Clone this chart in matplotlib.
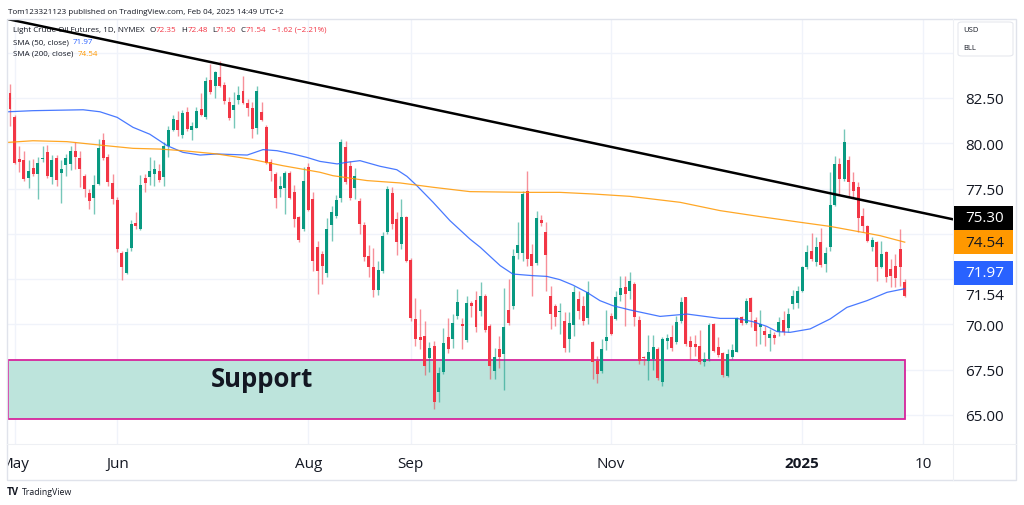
import matplotlib
matplotlib.use("Agg")
import matplotlib.pyplot as plt
from matplotlib.patches import Rectangle, FancyBboxPatch

plt.rcParams['font.family'] = ['Open Sans', 'DejaVu Sans']

# ---------------- data ----------------
# daily bars 2024-04-30 ... 2025-02-04, index = bar number
opens = [82.76, 81.47, 79.15, 79.05, 78.10, 78.65, 78.28, 79.15, 79.53, 78.14,
         79.18, 78.36, 78.78, 78.88, 79.55, 79.20, 78.17, 77.25, 77.00, 77.73,
         80.20, 79.24, 77.80, 76.89, 73.94, 72.83, 74.21, 75.62, 75.25, 78.08,
         78.14, 78.28, 78.49, 78.12, 79.87, 80.75, 81.30, 80.46, 81.75, 80.75,
         80.84, 81.89, 81.43, 83.49, 83.18, 83.64, 83.22, 82.30, 81.84, 82.39,
         82.91, 82.22, 81.95, 80.84, 81.71, 80.92, 78.99, 78.30, 77.48, 77.51,
         78.36, 77.33, 75.95, 75.27, 78.67, 76.92, 74.25, 73.89, 72.84, 75.49,
         76.00, 76.96, 79.78, 78.76, 77.51, 76.83, 75.49, 73.79, 73.15, 71.92,
         72.97, 75.08, 77.25, 75.82, 74.44, 75.91, 73.57, 70.30, 69.28, 69.34,
         68.12, 68.79, 66.25, 67.39, 69.28, 69.19, 70.48, 70.02, 69.16, 71.18,
         71.37, 70.76, 71.59, 69.93, 67.44, 68.64, 68.36, 70.81, 70.99, 73.94,
         73.94, 77.35, 73.89, 73.39, 75.78, 75.08, 71.55, 71.03, 70.70, 70.17,
         69.19, 69.97, 71.40, 71.03, 70.33, 69.01, 68.00, 67.44, 69.10, 70.48,
         70.30, 71.62, 72.05, 71.86, 72.23, 70.24, 68.18, 67.99, 68.09, 68.64,
         66.80, 69.08, 69.29, 69.05, 70.20, 71.49, 69.10, 68.92, 68.79, 67.94,
         68.09, 70.02, 68.73, 68.42, 67.17, 68.18, 68.49, 70.39, 70.08, 71.44,
         70.24, 69.84, 69.65, 69.23, 69.41, 69.56, 70.24, 69.80, 71.10, 71.20,
         71.86, 73.15, 74.07, 73.46, 74.57, 73.33, 74.25, 76.59, 78.86, 78.03,
         79.09, 77.88, 77.57, 75.97, 75.41, 74.25, 74.57, 73.15, 73.98, 73.06,
         73.24, 74.16, 72.35]
highs = [83.27, 81.56, 79.85, 79.60, 79.10, 79.15, 79.25, 79.85, 79.88, 79.33,
         79.33, 79.05, 79.43, 79.83, 80.07, 79.60, 78.32, 77.49, 78.23, 80.25,
         80.56, 79.39, 78.32, 77.03, 74.05, 74.24, 75.74, 76.20, 78.23, 78.32,
         79.24, 79.06, 78.86, 80.05, 80.97, 81.56, 81.80, 81.84, 81.99, 81.16,
         81.99, 82.78, 83.64, 84.38, 84.01, 84.56, 83.37, 82.54, 82.81, 83.18,
         83.73, 82.45, 82.26, 83.15, 82.26, 81.01, 79.13, 78.40, 78.21, 78.49,
         78.49, 77.70, 76.00, 78.67, 78.91, 77.29, 74.62, 74.07, 75.86, 76.55,
         77.14, 80.24, 80.14, 79.04, 78.62, 76.96, 75.63, 74.38, 74.20, 73.52,
         75.08, 77.66, 77.57, 76.19, 76.92, 76.00, 73.65, 71.44, 70.85, 70.20,
         69.01, 69.10, 67.63, 69.78, 70.33, 70.57, 71.95, 70.33, 71.58, 71.31,
         71.86, 72.36, 71.68, 70.02, 68.68, 69.38, 71.99, 72.51, 74.16, 75.63,
         77.38, 78.49, 74.44, 76.28, 76.04, 75.63, 72.14, 71.12, 71.20, 70.67,
         70.67, 72.10, 71.86, 71.59, 72.41, 69.10, 68.27, 69.19, 70.81, 70.63,
         71.86, 72.65, 72.65, 72.91, 72.32, 70.48, 68.27, 69.41, 69.41, 68.73,
         69.29, 69.47, 69.97, 70.48, 71.49, 71.52, 69.34, 69.41, 69.71, 68.46,
         70.08, 70.08, 69.29, 68.46, 68.64, 68.92, 70.39, 70.48, 71.44, 71.49,
         70.39, 70.81, 69.89, 69.75, 69.56, 70.39, 70.76, 70.90, 71.90, 72.10,
         73.24, 74.38, 75.05, 74.81, 75.30, 74.25, 78.39, 79.32, 79.17, 80.79,
         79.28, 78.43, 77.84, 76.41, 75.49, 74.81, 74.62, 74.62, 74.07, 73.61,
         73.89, 75.27, 72.48]
lows = [80.95, 78.86, 78.40, 77.90, 77.55, 78.20, 76.90, 78.95, 78.10, 77.77,
        77.62, 76.70, 78.17, 78.50, 78.60, 77.58, 77.03, 76.39, 76.11, 77.68,
        79.06, 77.62, 76.66, 73.99, 72.47, 72.80, 74.05, 75.28, 75.19, 77.31,
        77.68, 77.62, 77.85, 77.62, 79.22, 80.70, 80.38, 80.27, 80.70, 80.20,
        80.83, 81.53, 81.34, 82.72, 82.48, 83.09, 82.17, 81.30, 80.83, 82.17,
        82.17, 81.53, 80.27, 80.51, 81.25, 78.86, 77.94, 76.41, 77.02, 76.10,
        76.92, 75.36, 74.57, 75.18, 76.28, 72.97, 71.68, 72.23, 72.60, 74.62,
        75.86, 76.78, 77.75, 76.89, 76.92, 74.99, 73.52, 72.60, 71.49, 71.62,
        72.84, 74.99, 75.27, 73.83, 74.16, 73.43, 70.20, 68.82, 68.64, 67.20,
        67.35, 65.33, 65.70, 67.26, 68.42, 68.68, 70.30, 68.64, 69.04, 70.39,
        69.56, 70.48, 69.56, 66.98, 66.98, 67.57, 66.40, 69.97, 70.85, 73.61,
        73.52, 73.24, 71.59, 73.28, 75.45, 71.86, 69.75, 69.93, 69.47, 68.46,
        68.46, 69.38, 70.30, 69.97, 70.02, 66.98, 66.76, 67.32, 68.60, 69.41,
        70.26, 71.31, 69.90, 71.40, 69.93, 67.81, 67.76, 66.95, 67.50, 66.95,
        66.58, 68.64, 68.55, 68.92, 70.08, 68.82, 68.09, 68.27, 67.81, 67.72,
        67.99, 68.46, 68.18, 67.08, 67.08, 68.09, 68.46, 69.97, 70.02, 69.84,
        68.82, 68.92, 68.82, 68.55, 68.92, 69.38, 69.41, 69.60, 70.85, 70.90,
        71.77, 73.06, 73.52, 73.24, 73.15, 72.87, 74.07, 76.52, 77.20, 77.94,
        77.07, 76.96, 75.08, 75.08, 74.53, 74.07, 72.41, 73.10, 72.36, 72.05,
        72.05, 72.14, 71.50]
closes = [81.88, 78.93, 78.97, 78.05, 78.45, 78.28, 78.92, 79.20, 78.17, 79.05,
          77.99, 78.58, 79.18, 79.58, 79.24, 78.60, 77.49, 76.81, 77.68, 79.76,
          79.20, 77.86, 76.94, 74.18, 73.16, 73.99, 75.52, 75.43, 77.68, 77.82,
          78.45, 78.60, 77.99, 79.87, 80.75, 81.34, 80.75, 81.67, 80.79, 80.94,
          81.80, 81.56, 83.42, 82.81, 83.92, 83.18, 82.35, 81.40, 82.13, 82.68,
          82.21, 81.93, 80.79, 82.91, 81.30, 78.89, 78.45, 76.96, 77.66, 78.34,
          76.96, 75.82, 74.68, 77.94, 76.33, 73.52, 72.97, 73.20, 75.27, 76.22,
          76.87, 80.09, 77.84, 76.96, 78.17, 75.54, 73.70, 73.15, 71.92, 73.02,
          74.86, 77.47, 75.54, 74.53, 75.91, 73.52, 70.33, 69.19, 69.15, 67.68,
          68.68, 65.73, 67.31, 68.97, 68.64, 70.08, 71.22, 69.93, 71.18, 71.03,
          69.84, 71.59, 69.71, 67.72, 68.18, 68.18, 69.84, 70.08, 73.76, 74.38,
          77.20, 73.61, 73.24, 75.86, 75.58, 73.83, 70.57, 70.39, 70.76, 68.68,
          70.08, 71.77, 70.76, 70.20, 71.81, 67.90, 67.26, 68.64, 69.28, 69.47,
          71.49, 71.99, 71.70, 72.38, 70.39, 67.99, 68.12, 68.46, 68.73, 67.02,
          69.19, 69.27, 68.71, 70.15, 71.25, 68.92, 68.73, 68.73, 67.90, 68.09,
          69.97, 68.55, 68.31, 67.20, 68.36, 68.60, 70.33, 70.08, 71.31, 70.70,
          69.65, 70.00, 69.41, 69.47, 69.23, 70.15, 69.56, 70.60, 71.58, 71.86,
          73.15, 73.98, 73.61, 74.25, 73.28, 73.94, 76.59, 78.86, 78.03, 80.09,
          77.88, 77.38, 75.86, 75.45, 74.62, 74.68, 73.15, 73.89, 72.60, 72.69,
          72.54, 73.15, 71.54]

# moving averages read at sample bars
sma50_idx = [-0.4, 4.9, 15.7, 19.3, 23.0, 26.4, 30.0, 33.7, 37.1, 40.8, 44.4, 50.9,
             54.3, 57.3, 60.7, 63.7, 66.5, 70.2, 72.3, 75.1, 79.4, 83.0, 85.2, 87.3,
             90.8, 94.4, 98.7, 100.9, 105.2, 107.9, 112.2, 115.2, 118.0, 120.8,
             123.8, 126.6, 129.4, 133.0, 139.5, 145.3, 152.4, 156.0, 159.4, 162.4,
             164.6, 167.4, 171.7, 176.0, 179.6, 183.9, 188.2, 192.0]
sma50_val = [81.74, 81.80, 81.85, 81.74, 81.43, 80.88, 80.50, 79.87, 79.50, 79.35,
             79.41, 79.35, 79.65, 79.59, 79.41, 79.22, 79.00, 78.86, 78.95, 79.04,
             78.73, 78.54, 78.17, 77.66, 76.74, 75.73, 74.71, 74.26, 73.24, 72.78,
             72.69, 72.65, 72.47, 72.17, 71.77, 71.31, 71.03, 70.80, 70.44, 70.57,
             70.33, 70.33, 70.15, 69.89, 69.60, 69.56, 69.75, 70.30, 70.94, 71.31,
             71.77, 71.97]
sma200_idx = [-0.4, 4.9, 12.2, 19.3, 26.4, 32.2, 37.1, 44.4, 51.5, 58.6, 66.5,
              69.3, 76.6, 83.7, 90.8, 98.7, 110.9, 118.0, 125.1, 133.0, 143.8,
              152.4, 161.0, 169.5, 176.0, 183.0, 186.7, 192.0]
sma200_val = [80.05, 80.14, 80.09, 79.90, 79.72, 79.68, 79.59, 79.41, 79.13, 78.76,
              78.40, 78.21, 77.94, 77.81, 77.57, 77.33, 77.29, 77.29, 77.20, 77.07,
              76.74, 76.28, 75.95, 75.64, 75.41, 75.08, 74.90, 74.54]

trend_idx = [-2.0, 202.4]
trend_val = [86.94, 75.80]

support_left, support_right = -0.4, 192.1
support_low, support_high = 64.78, 68.02

price_ticks = [65.0, 67.5, 70.0, 77.5, 80.0, 82.5]
grid_prices = [65.0, 67.5, 70.0, 72.5, 75.0, 77.5, 80.0, 82.5, 85.0]
time_labels = ['May', 'Jun', 'Aug', 'Sep', 'Nov', '2025', '10']
time_idx = [1, 23, 64, 86, 129, 170, 196]

# ---------------- figure ----------------
W, H = 1024, 506
fig = plt.figure(figsize=(W / 100, H / 100), dpi=100)
fig.patch.set_facecolor('white')


def fx(px):
    return px / W


def fy(py):
    return 1 - py / H


UP, DOWN, TXT = '#089981', '#f23645', '#131722'
GRID = '#f0f3fa'

ax = fig.add_axes([fx(7), fy(445), fx(953) - fx(7), fy(20) - fy(445)])
XLIM = (-0.644, 202.36)
ax.set_xlim(*XLIM)
ax.set_ylim(63.395, 86.862)
for s in ax.spines.values():
    s.set_visible(False)
ax.set_xticks([])
ax.yaxis.tick_right()
ax.set_yticks(price_ticks)
ax.set_yticklabels([f'{p:.2f}' for p in price_ticks])
ax.tick_params(axis='y', length=0, pad=8.6, labelsize=11, labelcolor=TXT)

for p in grid_prices:
    ax.axhline(p, color=GRID, lw=1, zorder=0)
for m in time_idx:
    ax.axvline(m, color=GRID, lw=1, zorder=0)

# support zone
ax.add_patch(Rectangle((support_left, support_low), support_right - support_left,
                       support_high - support_low, facecolor='#bde4dc',
                       edgecolor='#d6249c', lw=1.3, zorder=2))
ax.text(43.1, 66.61, 'Support', fontsize=18.5, fontweight='bold', color=TXT,
        ha='left', va='baseline', zorder=7)

# candles
for i in range(len(opens)):
    o, h, l, c = opens[i], highs[i], lows[i], closes[i]
    col = UP if c >= o else DOWN
    ax.vlines(i, l, h, color=col, lw=1.0, alpha=0.55, zorder=3)
    ax.bar(i, max(abs(c - o), 0.06), bottom=min(o, c), width=0.64,
           color=col, zorder=4, linewidth=0)

ax.plot(sma50_idx, sma50_val, color='#2962ff', lw=0.9, alpha=0.85, zorder=5)
ax.plot(sma200_idx, sma200_val, color='#ff9800', lw=0.9, alpha=0.85, zorder=5)
ax.plot(trend_idx, trend_val, color='black', lw=1.8, zorder=8,
        solid_capstyle='butt')

# time axis labels
axt = fig.add_axes([fx(7), fy(481), fx(953) - fx(7), fy(445) - fy(481)])
axt.set_xlim(*XLIM)
axt.set_ylim(0, 1)
axt.axis('off')
for lab, m in zip(time_labels, time_idx):
    axt.text(m, 0.47, lab, fontsize=11, color=TXT, ha='center', va='center',
             fontweight='bold' if lab == '2025' else 'normal', clip_on=True)

# frame
fig.add_artist(Rectangle((fx(7), fy(481)), fx(1016) - fx(7), fy(20) - fy(481),
                         transform=fig.transFigure, fill=False,
                         edgecolor='#e0e3eb', lw=1))
fig.add_artist(plt.Line2D([fx(7), fx(1016)], [fy(445), fy(445)],
                          transform=fig.transFigure, color='#eef0f4', lw=0.8))
fig.add_artist(plt.Line2D([fx(953), fx(953)], [fy(20), fy(481)],
                          transform=fig.transFigure, color='#eef0f4', lw=0.8))

# price labels on scale
def price_box(y_px, text, face, tcol):
    if face is not None:
        fig.add_artist(Rectangle((fx(954), fy(y_px + 12)), fx(1013) - fx(954),
                                 24 / H, transform=fig.transFigure,
                                 facecolor=face, edgecolor='none', zorder=10))
    fig.text(fx(965), fy(y_px), text, fontsize=11, color=tcol, ha='left',
             va='center', zorder=11)


price_box(218.5, '75.30', '#000000', 'white')
price_box(243.2, '74.54', '#ff9800', TXT)
price_box(273.5, '71.97', '#2962ff', 'white')
price_box(297.0, '71.54', None, TXT)

# USD / BLL box
fig.add_artist(FancyBboxPatch((fx(958), fy(57)), fx(1013) - fx(958), 34 / H,
                              boxstyle='round,pad=0,rounding_size=0.004',
                              transform=fig.transFigure, facecolor='white',
                              edgecolor='#e6e8ee', lw=0.8))
fig.text(fx(963), fy(31), 'USD', fontsize=5.5, color=TXT, va='center')
fig.text(fx(963), fy(48.5), 'BLL', fontsize=5.5, color=TXT, va='center')

# header & legend
fig.text(fx(8), fy(12), 'Tom123321123 published on TradingView.com, Feb 04, 2025 14:49 UTC+2',
         fontsize=5.75, color=TXT, va='center')

renderer = fig.canvas.get_renderer()


def seq_text(x_px, y_px, parts, fs=5.8):
    x = x_px
    for s, col, gap in parts:
        t = ax.text(fx(x), fy(y_px), s, color=col, fontsize=fs, va='center',
                    ha='left', transform=fig.transFigure, zorder=6)
        x += t.get_window_extent(renderer=renderer).width + gap


seq_text(13, 30, [('Light Crude Oil Futures, 1D, NYMEX', TXT, 5),
                  ('O', TXT, 0), ('72.35', DOWN, 5),
                  ('H', TXT, 0), ('72.48', DOWN, 4),
                  ('L', TXT, 0), ('71.50', DOWN, 4),
                  ('C', TXT, 0), ('71.54', DOWN, 6),
                  ('\u22121.62 (\u22122.21%)', DOWN, 0)])
seq_text(13, 42.5, [('SMA (50, close)', TXT, 4), ('71.97', '#2962ff', 0)])
seq_text(13, 54, [('SMA (200, close)', TXT, 4), ('74.54', '#ff9800', 0)])

# watermark
fig.text(fx(7), fy(493), 'TV', fontsize=7, fontweight='bold', color=TXT, va='center')
fig.text(fx(22), fy(493), 'TradingView', fontsize=6.3, color=TXT, va='center')

fig.savefig('out.png', dpi=100, facecolor='white')
